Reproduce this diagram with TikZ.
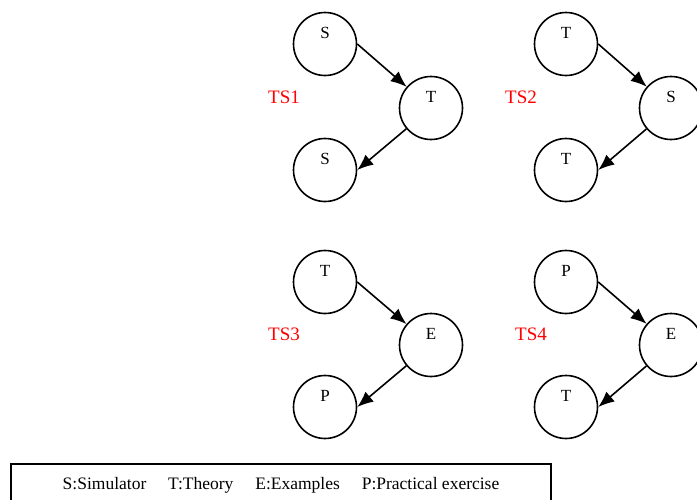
\documentclass[tikz,border=0pt]{standalone}
\usepackage{fontspec}
\setmainfont{Liberation Serif}
\usetikzlibrary{arrows.meta}

\begin{document}
\begin{tikzpicture}[x=1pt,y=-1pt,
    st/.style={draw,circle,line width=1.6pt,minimum size=63pt,inner sep=0pt,
      font=\fontsize{17}{17}\selectfont,text height=11pt,text depth=22pt},
    ts/.style={text=red,font=\fontsize{19}{19}\selectfont},
    arr/.style={line width=1.6pt,-{Latex[length=16pt,width=13pt]}}]
      \useasboundingbox (0,0) rectangle (697,499);

      % TS1
      \node[st] (a1) at (325,44) {S};
      \node[st] (a2) at (431,108) {T};
      \node[st] (a3) at (325,170) {S};
      \node[ts] (ts1) at (284,97) {TS1};
      \draw[arr] (a1.east) -- (a2);
      \draw[arr] (a2) -- (a3.east);

      % TS2
      \node[st] (b1) at (566,44) {T};
      \node[st] (b2) at (671,108) {S};
      \node[st] (b3) at (566,170) {T};
      \node[ts] (ts2) at (521,97) {TS2};
      \draw[arr] (b1.east) -- (b2);
      \draw[arr] (b2) -- (b3.east);

      % TS3
      \node[st] (c1) at (325,282) {T};
      \node[st] (c2) at (431,345) {E};
      \node[st] (c3) at (325,407) {P};
      \node[ts] (ts3) at (284,334) {TS3};
      \draw[arr] (c1.east) -- (c2);
      \draw[arr] (c2) -- (c3.east);

      % TS4
      \node[st] (d1) at (566,282) {P};
      \node[st] (d2) at (671,345) {E};
      \node[st] (d3) at (566,407) {T};
      \node[ts] (ts4) at (531,334) {TS4};
      \draw[arr] (d1.east) -- (d2);
      \draw[arr] (d2) -- (d3.east);

      % legend
      \draw[line width=1.6pt] (11,520) -- (11,464) -- (551,464) -- (551,520);
      \node[font=\fontsize{17.5}{17.5}\selectfont] (key) at (281,485)
        {S:Simulator\hspace{1.25em}T:Theory\hspace{1.25em}E:Examples\hspace{1.25em}P:Practical exercise};
\end{tikzpicture}
\end{document}
